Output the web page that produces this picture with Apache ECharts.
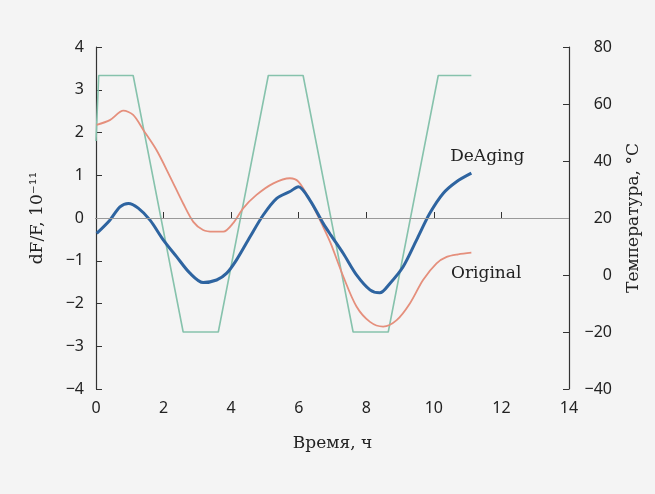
<!DOCTYPE html>
<html>
<head>
<meta charset="utf-8">
<script src="https://cdn.jsdelivr.net/npm/echarts@6/dist/echarts.min.js"></script>
<style>
  html, body { margin: 0; padding: 0; background: #f4f4f4; }
  #chart { width: 655px; height: 494px; }
</style>
</head>
<body>
<div id="chart"></div>
<script>
// температура, правая ось
var tempTime = [0, 0.08, 1.10, 2.58, 3.62, 5.10, 6.13, 7.61, 8.65, 10.13, 11.11];
var tempValue = [47, 70, 70, -20, -20, 70, 70, -20, -20, 70, 70];

// Original, левая ось
var origTime = [0.02, 0.41, 0.81, 1.10, 1.40, 1.79, 2.19, 2.58, 2.88, 3.17, 3.47, 3.77, 4.06, 4.36, 4.75, 5.25, 5.74, 5.99, 6.33, 6.72, 6.95, 7.32, 7.71, 8.11, 8.50, 8.90, 9.29, 9.68, 10.08, 10.38, 10.72, 11.11];
var origValue = [2.18, 2.29, 2.51, 2.41, 2.06, 1.59, 0.97, 0.34, -0.09, -0.28, -0.32, -0.32, -0.12, 0.23, 0.54, 0.81, 0.93, 0.85, 0.42, -0.20, -0.60, -1.37, -2.07, -2.43, -2.54, -2.39, -2.00, -1.45, -1.06, -0.91, -0.85, -0.81];

// DeAging, левая ось
var deagTime = [0.02, 0.41, 0.71, 0.96, 1.25, 1.60, 1.99, 2.39, 2.78, 3.17, 3.57, 3.87, 4.16, 4.56, 4.95, 5.35, 5.74, 5.99, 6.33, 6.72, 6.95, 7.32, 7.71, 8.11, 8.40, 8.70, 9.09, 9.49, 9.88, 10.28, 10.67, 11.11];
var deagValue = [-0.36, -0.05, 0.26, 0.34, 0.23, -0.05, -0.51, -0.91, -1.29, -1.51, -1.45, -1.29, -0.98, -0.44, 0.07, 0.46, 0.62, 0.73, 0.42, -0.12, -0.40, -0.83, -1.33, -1.68, -1.75, -1.53, -1.14, -0.51, 0.11, 0.58, 0.85, 1.05];

function pairs(xs, ys) {
  var out = [];
  for (var i = 0; i < xs.length; i++) out.push([xs[i], ys[i]]);
  return out;
}

// минус как в оригинале
function minus(v) {
  return String(v).replace("-", "\u2212");
}

var tickFont = { fontFamily: "Noto Sans", fontSize: 16, color: "#222", formatter: minus };
var serif = "DejaVu Serif";

var chart = echarts.init(document.getElementById("chart"));
chart.setOption({
  backgroundColor: "#f4f4f4",
  animation: false,
  grid: { left: 96, right: 86, top: 47, bottom: 105 },
  xAxis: {
    type: "value",
    min: 0, max: 14, interval: 2,
    name: "Время, ч",
    nameLocation: "middle",
    nameGap: 46,
    nameTextStyle: { fontFamily: serif, fontSize: 17, color: "#222" },
    axisLine: { lineStyle: { color: "#333", width: 1.2 } },
    axisTick: { inside: true, length: 6, lineStyle: { color: "#333" } },
    axisLabel: Object.assign({ margin: 11 }, tickFont),
    splitLine: { show: false }
  },
  yAxis: [
    {
      type: "value",
      min: -4, max: 4, interval: 1,
      name: "dF/F, 10⁻¹¹",
      nameLocation: "middle",
      nameGap: 50,
      nameTextStyle: { fontFamily: serif, fontSize: 17, color: "#222" },
      axisLine: { show: true, lineStyle: { color: "#333", width: 1.2 } },
      axisTick: { show: true, inside: true, length: 6, lineStyle: { color: "#333" } },
      axisLabel: Object.assign({ margin: 12 }, tickFont),
      splitLine: { show: false }
    },
    {
      type: "value",
      position: "right",
      min: -40, max: 80, interval: 20,
      name: "Температура, °C",
      nameLocation: "middle",
      nameGap: 56,
      nameTextStyle: { fontFamily: serif, fontSize: 17, color: "#222" },
      axisLine: { show: true, lineStyle: { color: "#333", width: 1.2 } },
      axisTick: { show: true, inside: true, length: 6, lineStyle: { color: "#333" } },
      axisLabel: Object.assign({ margin: 43, align: "right" }, tickFont),
      splitLine: { show: false }
    }
  ],
  series: [
    {
      name: "Температура",
      type: "line",
      yAxisIndex: 1,
      symbol: "none",
      lineStyle: { color: "#86c2ac", width: 1.6 },
      data: pairs(tempTime, tempValue),
      z: 1
    },
    {
      name: "Original",
      type: "line",
      yAxisIndex: 0,
      smooth: 0.3,
      symbol: "none",
      lineStyle: { color: "#e58f7c", width: 1.8 },
      data: pairs(origTime, origValue),
      markLine: {
        silent: true,
        symbol: "none",
        label: { show: false },
        lineStyle: { color: "#999", width: 1.2, type: "solid" },
        data: [{ yAxis: 0 }]
      },
      markPoint: {
        symbolSize: 0,
        label: { show: true, position: "inside", fontFamily: serif, fontSize: 17, color: "#222", formatter: "Original" },
        data: [{ coord: [11.55, -1.29] }]
      },
      z: 2
    },
    {
      name: "DeAging",
      type: "line",
      yAxisIndex: 0,
      smooth: 0.3,
      symbol: "none",
      lineStyle: { color: "#2e64a0", width: 3 },
      data: pairs(deagTime, deagValue),
      markPoint: {
        symbolSize: 0,
        label: { show: true, position: "inside", fontFamily: serif, fontSize: 17, color: "#222", formatter: "DeAging" },
        data: [{ coord: [11.58, 1.43] }]
      },
      z: 3
    }
  ]
});
</script>
</body>
</html>
